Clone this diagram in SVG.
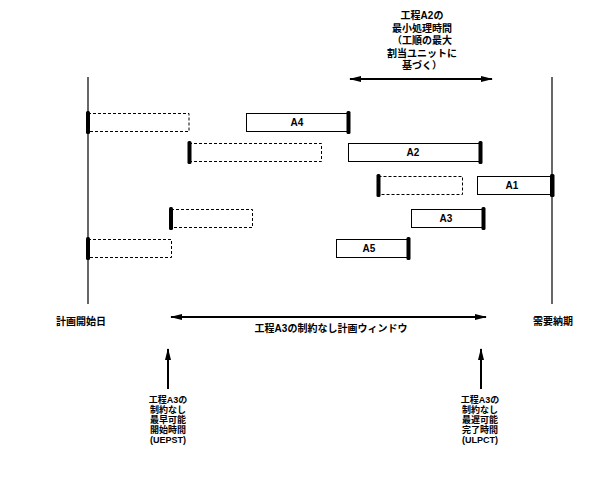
<svg xmlns="http://www.w3.org/2000/svg" width="616" height="487" viewBox="0 0 616 487">
<style>
text{font-family:"Liberation Sans","Noto Sans CJK JP",sans-serif;font-weight:bold;font-size:10px;fill:#000;text-anchor:middle;dominant-baseline:central}
.sm{font-size:9px}
.task{fill:#fff;stroke:#000;stroke-width:1}
.slack{fill:#fff;stroke:#000;stroke-width:1;stroke-dasharray:3 2}
.bar{fill:#000}
.ln{stroke:#000;stroke-width:1.2;fill:none}
.arw{stroke:#000;stroke-width:2;fill:none}
</style>
<defs>
<marker id="ah" viewBox="0 0 12 8" refX="11" refY="4" markerWidth="12" markerHeight="8" markerUnits="userSpaceOnUse" orient="auto-start-reverse">
<path d="M0,1 L12,4 L0,7 Z" fill="#000"/>
</marker>
</defs>
<rect width="616" height="487" fill="#fff"/>
<g id="connectors">
<line class="ln" x1="88" y1="77" x2="88" y2="304"/>
<line class="ln" x1="552" y1="77" x2="552" y2="304"/>
<line class="arw" x1="350" y1="79" x2="492" y2="79" marker-start="url(#ah)" marker-end="url(#ah)"/>
<line class="arw" x1="171" y1="317" x2="486" y2="317" marker-start="url(#ah)" marker-end="url(#ah)"/>
<line class="arw" x1="168" y1="389" x2="168" y2="349" marker-end="url(#ah)"/>
<line class="arw" x1="481" y1="389" x2="481" y2="349" marker-end="url(#ah)"/>
</g>
<g id="row-A4">
<rect class="slack" x="88" y="113.5" width="101" height="18"/>
<rect class="bar" x="86" y="111" width="4" height="23" rx="1.5"/>
<rect class="task" x="246.5" y="113.5" width="102" height="18"/>
<rect class="bar" x="346.5" y="111" width="4" height="23" rx="1.5"/>
<text x="297" y="122.5">A4</text>
</g>
<g id="row-A2">
<rect class="slack" x="189" y="143.5" width="132.5" height="18"/>
<rect class="bar" x="187.5" y="141" width="4" height="23" rx="1.5"/>
<rect class="task" x="348.5" y="143.5" width="131.5" height="18"/>
<rect class="bar" x="478.5" y="141" width="4" height="23" rx="1.5"/>
<text x="413" y="152.5">A2</text>
</g>
<g id="row-A1">
<rect class="slack" x="378.5" y="176.5" width="84" height="18"/>
<rect class="bar" x="376.5" y="174" width="4" height="23" rx="1.5"/>
<rect class="task" x="477.5" y="176.5" width="74" height="18"/>
<rect class="bar" x="550" y="174" width="4.5" height="23" rx="1.5"/>
<text x="512" y="185.5">A1</text>
</g>
<g id="row-A3">
<rect class="slack" x="171" y="209.5" width="81.5" height="18"/>
<rect class="bar" x="169" y="207" width="4" height="23" rx="1.5"/>
<rect class="task" x="411.5" y="209.5" width="72" height="18"/>
<rect class="bar" x="481.5" y="207" width="4" height="23" rx="1.5"/>
<text x="446" y="218.5">A3</text>
</g>
<g id="row-A5">
<rect class="slack" x="88" y="239.5" width="83.5" height="18"/>
<rect class="bar" x="86" y="237" width="4" height="23" rx="1.5"/>
<rect class="task" x="336.5" y="239.5" width="72" height="18"/>
<rect class="bar" x="406.5" y="237" width="4" height="23" rx="1.5"/>
<text x="369" y="248.5">A5</text>
</g>
<g id="label-top">
<text x="422" y="15">工程A2の</text>
<text x="422" y="28">最小処理時間</text>
<text x="422" y="40.5">（工順の最大</text>
<text x="422" y="53">割当ユニットに</text>
<text x="422" y="65">基づく）</text>
</g>
<g id="label-start"><text x="81" y="321">計画開始日</text></g>
<g id="label-due"><text x="553" y="321">需要納期</text></g>
<g id="label-window"><text x="331" y="328">工程A3の制約なし計画ウィンドウ</text></g>
<g id="label-uepst">
<text class="sm" x="168" y="400">工程A3の</text>
<text class="sm" x="168" y="410">制約なし</text>
<text class="sm" x="168" y="420">最早可能</text>
<text class="sm" x="168" y="430">開始時間</text>
<text class="sm" x="168" y="440">(UEPST)</text>
</g>
<g id="label-ulpct">
<text class="sm" x="480" y="400">工程A3の</text>
<text class="sm" x="480" y="410">制約なし</text>
<text class="sm" x="480" y="420">最遅可能</text>
<text class="sm" x="480" y="430">完了時間</text>
<text class="sm" x="480" y="440">(ULPCT)</text>
</g>
</svg>
